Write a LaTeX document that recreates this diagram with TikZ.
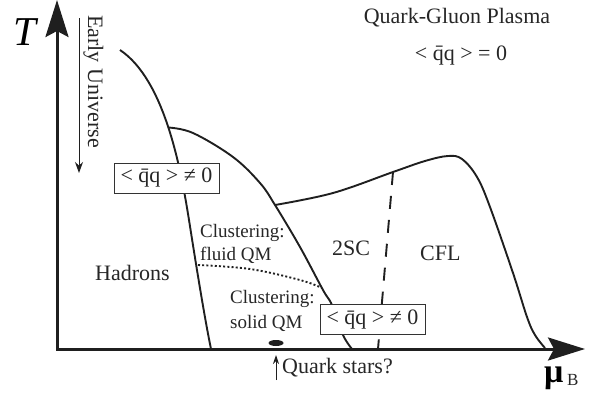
\documentclass[tikz,border=0pt]{standalone}
\usepackage{fontspec}
\setmainfont{Liberation Serif}
\usetikzlibrary{arrows.meta,shapes.geometric}
\begin{document}
\begin{tikzpicture}[x=1pt,y=-1pt,
  curve/.style={line width=1.9pt, black!88},
  lbl/.style={inner sep=0pt, anchor=base west, text=black!85, font=\fontsize{22}{24}\selectfont},
  clus/.style={inner sep=0pt, anchor=base west, text=black!85, font=\fontsize{19}{21}\selectfont},
  qbox/.style={draw=black!80, line width=0.9pt, fill=white, minimum width=105pt, minimum height=30pt, inner sep=0pt, text=black!85, font=\fontsize{22}{24}\selectfont},
  axis/.style={line width=3pt, black!88, {Stealth[length=37pt,width=23pt,inset=6pt]}-{Stealth[length=37pt,width=23pt,inset=6pt]}}
]
\useasboundingbox (0,0) rectangle (597,402);
% hadron boundary
\draw[curve] (120,50) .. controls (165,80) and (181,170) .. (189,220) .. controls (195,258) and (204,315) .. (211,349);
% chiral curve
\draw[curve] plot[smooth, tension=0.6] coordinates {(168,127.5) (193,133) (233,157) (260,183) (275,205) (300,247) (323,290) (332,305) (343,335) (352,349)};
% 2SC / CFL boundary
\draw[curve] plot[smooth, tension=0.6] coordinates {(275,205) (333,193) (393,172) (425,161) (448,156) (462,159) (477,177) (490,207) (513,273) (527,317) (535,335) (545,348)};
% dashed 2SC-CFL line
\coordinate (dtop) at (393,172);
\coordinate (dbot) at (378,349);
\draw[curve, dash pattern=on 13pt off 11pt] (dtop) -- (dbot);
% dotted line
\draw[line width=1.9pt, black!88, dash pattern=on 2pt off 2.2pt] plot[smooth, tension=0.6] coordinates {(198,265) (250,269) (300,280) (322,288)};
% boxes
\node[qbox] (box1) at (166.5,178) {<\ \={q}q\ >\ ≠\ 0};
\node[qbox] (box2) at (372.5,319.5) {<\ \={q}q\ >\ ≠\ 0};
% axes
\coordinate (O) at (57,349);
\coordinate (Ttip) at (57,0);
\coordinate (Mtip) at (585,349);
\draw[axis] (Ttip) -- (O) -- (Mtip);
% axis labels
\node[inner sep=0pt, anchor=base west, font=\fontsize{41}{43}\selectfont\itshape] (T) at (13,45) {T};
\node[inner sep=0pt, anchor=base west, font=\fontsize{34}{36}\selectfont\bfseries] (mu) at (544,382) {μ};
\node[inner sep=0pt, anchor=base west, font=\fontsize{17}{19}\selectfont, text=black!85] (B) at (567,385) {B};
% early universe
\node[lbl, rotate=-90] (eu) at (88,15) {Early Universe};
\coordinate (eutop) at (79,18);
\coordinate (eubot) at (79,173);
\draw[line width=1pt, black!88, -{Stealth[length=11pt,width=8pt]}] (eutop) -- (eubot);
% region labels
\node[lbl, anchor=base] (qgp) at (457,23) {Quark-Gluon Plasma};
\node[lbl, anchor=base] (qq0) at (461,60) {<\ \={q}q\ >\ =\ 0};
\node[lbl] (had) at (95,280) {Hadrons};
\node[clus] (c1) at (200,237) {Clustering:};
\node[clus] (f1) at (200,260) {fluid QM};
\node[clus] (c2) at (230,303) {Clustering:};
\node[clus] (s2) at (230,328) {solid QM};
\node[lbl] (tsc) at (332,255) {2SC};
\node[lbl] (cfl) at (420,260) {CFL};
% quark stars
\node[fill=black!88, ellipse, inner sep=0pt, minimum width=15pt, minimum height=6pt] (star) at (276,343) {};
\coordinate (qsbot) at (276,380);
\coordinate (qstop) at (276,355);
\draw[line width=1pt, black!88, -{Stealth[length=9pt,width=6pt]}] (qsbot) -- (qstop);
\node[lbl] (qs) at (282,373) {Quark stars?};
\end{tikzpicture}
\end{document}
